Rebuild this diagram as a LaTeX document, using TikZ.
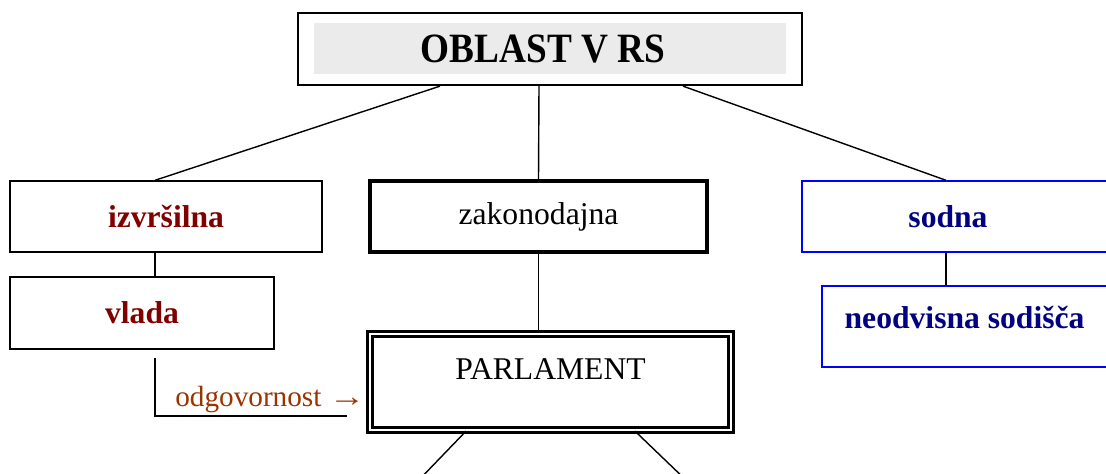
\documentclass[tikz,border=0pt]{standalone}
\usepackage{fontspec}
\setmainfont{Liberation Serif}
\definecolor{darkred}{HTML}{800000}
\definecolor{navyblue}{HTML}{000080}
\definecolor{brownish}{HTML}{993300}
\tikzset{
  box/.style={draw, rectangle, line width=1pt, inner sep=0pt,
    font=\fontsize{22.5}{27}\selectfont},
  bluebox/.style={box, draw=blue},
  redtext/.style={text=darkred, font=\fontsize{22.5}{27}\selectfont\bfseries},
  bluetext/.style={text=navyblue, font=\fontsize{22.5}{27}\selectfont\bfseries}
}
\begin{document}
\begin{tikzpicture}
    \useasboundingbox (0,0) rectangle (27.65,-11.825);
    %% Draw the title
    \node[fill=gray!16, minimum width=11.8cm, minimum height=1.275cm,
      font=\fontsize{26.5}{32}\selectfont\bfseries] (title) at (13.75,-1.2125)
      {\hspace*{-0.35cm}\scalebox{1}[1.12]{OBLAST V RS}};
    \node[box, line width=1.6pt, minimum width=12.6cm, minimum height=1.8cm] (oblast) at (13.75,-1.225) {};
    %% Draw the three branches
    \node[box, redtext, minimum width=7.8cm, minimum height=1.775cm] (izvrsilna) at (4.15,-5.4125) {izvršilna};
    \node[box, line width=2.3pt, minimum width=8.425cm, minimum height=1.775cm] (zakonodajna) at (13.4625,-5.4125) {zakonodajna};
    \node[bluebox, bluetext, minimum width=7.95cm, minimum height=1.775cm] (sodna) at (24.025,-5.4125)
      {\hspace*{-0.325cm}\makebox[0pt]{sodna}\hspace*{0.325cm}};
    %% Draw the bodies
    \node[box, redtext, minimum width=6.6cm, minimum height=1.8cm] (vlada) at (3.55,-7.825) {vlada};
    \node[box, line width=1.6pt, double, double distance=1.8pt, minimum width=9.025cm, minimum height=2.4cm]
      (parlament) at (13.7625,-9.55) {\raisebox{1.5pt}[0pt][0pt]{PARLAMENT}};
    \node[bluebox, bluetext, minimum width=7.45cm, minimum height=2.025cm] (sodisca) at (24.275,-8.1625)
      {\hspace*{-0.16cm}\makebox[0pt]{\raisebox{-1.5pt}[0pt][0pt]{neodvisna sodišča}}\hspace*{0.16cm}};
    %% Draw the responsibility label
    \coordinate (odgA) at (3.875,-8.95);
    \coordinate (odgB) at (8.675,-10.4);
    \coordinate (down1) at (10.4,-12.075);
    \coordinate (down2) at (17.225,-12.075);
    \node[text=brownish, font=\fontsize{20.8}{25}\selectfont, anchor=base west, inner sep=0pt] (odg) at (4.375,-10.15)
      {odgovornost \scalebox{1.25}[1]{→}};
    %% Draw the edges
    \begin{scope}[every path/.style={line width=1pt}]
      \draw ([xshift=-2.75cm]oblast.south) -- ([xshift=-0.275cm]izvrsilna.north);
      \draw ([xshift=-0.275cm]oblast.south) -- (zakonodajna.north);
      \draw ([xshift=3.325cm]oblast.south) -- ([xshift=-0.375cm]sodna.north);
      \draw ([xshift=-0.275cm]izvrsilna.south) coordinate (iz) -- (iz |- vlada.north);
      \draw (zakonodajna.south) -- (zakonodajna.south |- parlament.north);
      \draw ([xshift=-0.375cm]sodna.south) coordinate (so) -- (so |- sodisca.north);
      \draw (odgA) |- (odgB);
      \draw ([xshift=-2.1125cm]parlament.south) -- (down1);
      \draw ([xshift=2.1125cm]parlament.south) -- (down2);
    \end{scope}
\end{tikzpicture}
\end{document}
